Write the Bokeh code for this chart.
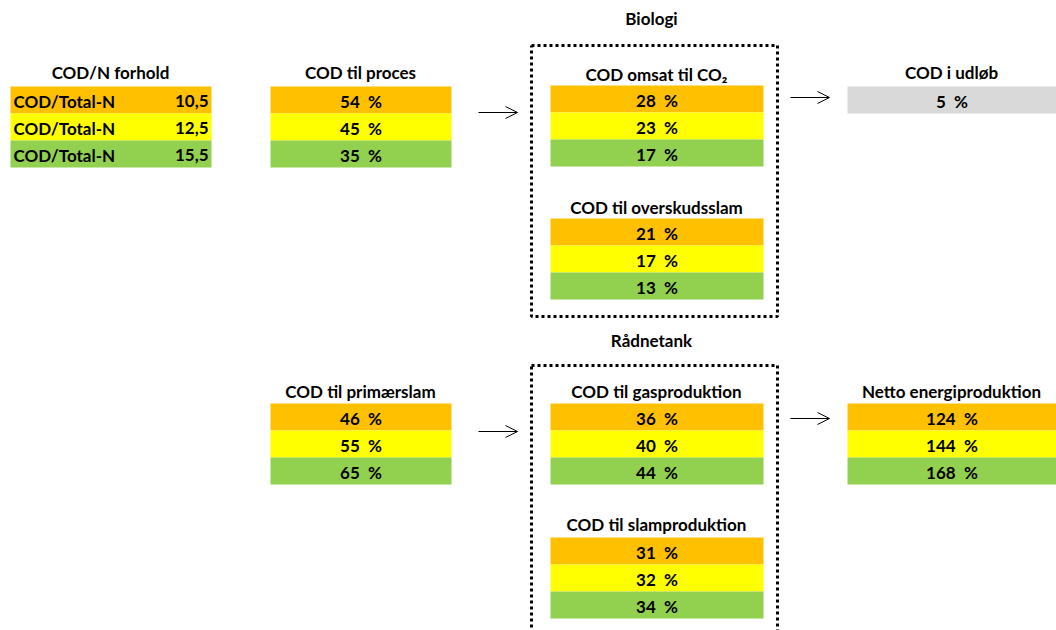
from bokeh.plotting import figure
from bokeh.models import ColumnDataSource, Arrow, OpenHead
from bokeh.core.properties import value
from bokeh.embed import file_html
from bokeh.resources import INLINE

# --- data -------------------------------------------------------------
ratio_labels = ["COD/Total-N", "COD/Total-N", "COD/Total-N"]
ratio_values = ["10,5", "12,5", "15,5"]
cod_to_process = [54, 45, 35]
cod_to_co2 = [28, 23, 17]
cod_to_excess_sludge = [21, 17, 13]
cod_effluent = [5]
cod_to_primary_sludge = [46, 55, 65]
cod_to_gas = [36, 40, 44]
cod_to_digested_sludge = [31, 32, 34]
net_energy = [124, 144, 168]

scenario_colors = ["#FFC000", "#FFFF00", "#92D050"]
grey = "#D9D9D9"

FONT = value("Lato")
FSIZE = "17px"
W, H = 1056, 630
ROW = 27

p = figure(width=W, height=H, x_range=(0, W), y_range=(H, 0),
           output_backend="svg", toolbar_location=None, min_border=0)
p.axis.visible = False
p.grid.visible = False
p.outline_line_color = None
p.background_fill_color = "white"
p.border_fill_color = "white"


def title(x, y, txt):
    p.text(x=[x], y=[y], text=[txt], text_font=FONT, text_font_style="bold",
           text_font_size=FSIZE, text_align="center", text_baseline="middle",
           text_color="#000000")


def table(left, right, top, vals, colors, fmt="{}\u00a0\u00a0%"):
    n = len(vals)
    tops = [top + i * ROW for i in range(n)]
    src = ColumnDataSource(dict(
        left=[left] * n, right=[right] * n, top=tops,
        bottom=[t + ROW for t in tops], color=colors[:n],
        x=[(left + right) / 2] * n, y=[t + ROW / 2 + 1 for t in tops],
        text=[fmt.format(v) for v in vals]))
    p.quad(left="left", right="right", top="top", bottom="bottom",
           fill_color="color", line_color=None, source=src)
    p.text(x="x", y="y", text="text", source=src, text_font=FONT,
           text_font_style="bold", text_font_size=FSIZE, text_align="center",
           text_baseline="middle", text_color="#000000")


def arrow(x0, x1, y):
    p.add_layout(Arrow(end=OpenHead(size=12, line_width=1, line_color="#000000"),
                       x_start=x0, y_start=y, x_end=x1, y_end=y,
                       line_width=1, line_color="#000000"))


def dotted_box(x0, x1, y0, y1):
    p.line(x=[x0, x1, x1, x0, x0], y=[y0, y0, y1, y1, y0], line_width=3,
           line_color="#000000", line_dash="3 3")


# --- COD/N ratio ------------------------------------------------------
title(110, 72, "COD/N forhold")
src = ColumnDataSource(dict(
    left=[10] * 3, right=[211] * 3, top=[86 + i * ROW for i in range(3)],
    bottom=[86 + (i + 1) * ROW for i in range(3)], color=scenario_colors,
    y=[86 + i * ROW + ROW / 2 + 1 for i in range(3)],
    lab=ratio_labels, val=ratio_values))
p.quad(left="left", right="right", top="top", bottom="bottom",
       fill_color="color", line_color=None, source=src)
p.text(x=13, y="y", text="lab", source=src, text_font=FONT,
       text_font_style="bold", text_font_size=FSIZE, text_align="left",
       text_baseline="middle", text_color="#000000")
p.text(x=208, y="y", text="val", source=src, text_font=FONT,
       text_font_style="bold", text_font_size=FSIZE, text_align="right",
       text_baseline="middle", text_color="#000000")

# --- process branch ---------------------------------------------------
title(360, 72, "COD til proces")
table(270, 451, 86, cod_to_process, scenario_colors)
arrow(478, 517, 112)

title(651, 18, "Biologi")
dotted_box(531, 777, 45, 316)
title(656, 74, "COD omsat til CO\u2082")
table(550, 763, 85, cod_to_co2, scenario_colors)
title(656, 207, "COD til overskudsslam")
table(550, 763, 218, cod_to_excess_sludge, scenario_colors)

arrow(790, 829, 97)
title(951, 72, "COD i udløb")
table(847, 1056, 86, cod_effluent, [grey])

# --- sludge branch ----------------------------------------------------
title(360, 391, "COD til primærslam")
table(270, 451, 403, cod_to_primary_sludge, scenario_colors)
arrow(478, 517, 431)

title(651, 340, "Rådnetank")
dotted_box(531, 777, 365, 640)
title(656, 391, "COD til gasproduktion")
table(550, 763, 403, cod_to_gas, scenario_colors)
title(656, 524, "COD til slamproduktion")
table(550, 763, 537, cod_to_digested_sludge, scenario_colors)

arrow(790, 829, 418)
title(951, 391, "Netto energiproduktion")
table(847, 1056, 403, net_energy, scenario_colors)

open("out.html", "w").write(file_html(p, INLINE))
